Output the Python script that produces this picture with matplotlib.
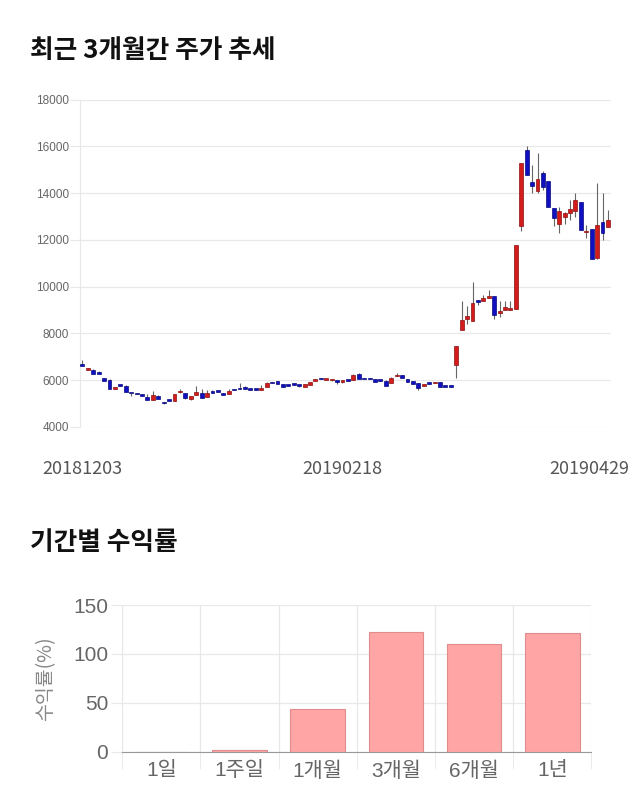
""" 주가 추세 + 기간별 수익률 """
import numpy as np
import matplotlib
matplotlib.use('Agg')
import matplotlib.pyplot as plt
from matplotlib.ticker import MultipleLocator, FixedLocator
import matplotlib.transforms as mtransforms

plt.rcParams['font.family'] = ['Noto Sans CJK KR', 'DejaVu Sans']
arial_like = ['Liberation Sans', 'Noto Sans CJK KR']

# 일봉 데이터 (2018-12-03 ~ 2019-04-29)
opens = [6660, 6440, 6440, 6350, 6100, 6010, 5630, 5780, 5750, 5450,
         5420, 5400, 5280, 5150, 5330, 5040, 5140, 5120, 5480, 5460,
         5200, 5370, 5460, 5280, 5490, 5510, 5440, 5410, 5590, 5630,
         5710, 5620, 5590, 5590, 5710, 5890, 5970, 5840, 5770, 5810,
         5770, 5710, 5800, 5970, 6060, 6000, 5990, 5950, 5900, 5980,
         6010, 6270, 6060, 6060, 6050, 5980, 5980, 5870, 6170, 6200,
         6050, 5950, 5880, 5760, 5850, 5870, 5900, 5740, 5770, 6650,
         8150, 8610, 8550, 9400, 9400, 9510, 9600, 8880, 9000, 9000,
         9050, 12600, 15860, 14460, 14070, 14880, 14500, 13360, 12690, 13000,
         13130, 13250, 13620, 12320, 12460, 11220, 12750, 12550]
highs = [6870, 6520, 6460, 6370, 6110, 6030, 5720, 5790, 5770, 5460,
         5430, 5420, 5400, 5520, 5350, 5060, 5150, 5420, 5600, 5470,
         5340, 5750, 5600, 5560, 5560, 5520, 5450, 5620, 5600, 5870,
         5760, 5630, 5600, 5790, 5900, 5900, 5980, 5850, 5780, 5820,
         5780, 5850, 5910, 6060, 6070, 6030, 6030, 5960, 6020, 5990,
         6280, 6290, 6070, 6100, 6060, 5990, 5990, 6120, 6300, 6210,
         6060, 5960, 5890, 5850, 5900, 5900, 5910, 5750, 5780, 7450,
         9400, 9150, 10180, 9410, 9650, 9860, 9610, 9400, 9400, 9400,
         11800, 15300, 16000, 15200, 15700, 14950, 14510, 13370, 13400, 13180,
         13710, 13990, 13630, 12640, 12470, 14430, 13990, 13270]
lows = [6600, 6430, 6250, 6260, 5960, 5620, 5620, 5750, 5490, 5300,
        5390, 5320, 5140, 5140, 5190, 4970, 5110, 5110, 5470, 5200,
        5150, 5360, 5230, 5270, 5460, 5480, 5360, 5400, 5560, 5600,
        5620, 5570, 5570, 5580, 5700, 5860, 5830, 5700, 5740, 5780,
        5700, 5700, 5790, 5960, 6030, 5990, 5980, 5850, 5890, 5950,
        6000, 6040, 6030, 6030, 5930, 5950, 5740, 5860, 6160, 6100,
        5930, 5830, 5560, 5750, 5820, 5860, 5700, 5710, 5700, 6100,
        8140, 8400, 8540, 9200, 9390, 9500, 8600, 8700, 8990, 8990,
        9040, 12360, 14780, 14000, 14000, 14150, 13390, 12600, 12300, 12700,
        12850, 13000, 12420, 12070, 11170, 11170, 11990, 12540]
closes = [6620, 6500, 6270, 6270, 5970, 5630, 5710, 5760, 5500, 5430,
          5400, 5330, 5150, 5370, 5200, 5000, 5120, 5400, 5510, 5240,
          5330, 5500, 5240, 5450, 5470, 5490, 5370, 5530, 5570, 5610,
          5630, 5580, 5580, 5680, 5880, 5870, 5840, 5710, 5750, 5790,
          5750, 5840, 5900, 6050, 6040, 6020, 6020, 5930, 6010, 5960,
          6200, 6050, 6040, 6040, 5940, 5960, 5750, 6110, 6190, 6110,
          5940, 5840, 5680, 5840, 5830, 5890, 5710, 5720, 5710, 7440,
          8580, 8750, 9320, 9350, 9530, 9600, 8790, 8970, 9110, 9100,
          11790, 15290, 14790, 14290, 14600, 14260, 13400, 12930, 13220, 13170,
          13340, 13720, 12430, 12390, 11180, 12650, 12290, 12850]
date_ticks = [0, 48, 97]
date_labels = ['20181203', '20190218', '20190429']

# 기간별 수익률
periods = ['1일', '1주일', '1개월', '3개월', '6개월', '1년']
returns = [0.0, 2.0, 44.0, 122.3, 110.3, 121.8]

fig = plt.figure(figsize=(6.4, 8.1), dpi=100)

# ---- 캔들 차트 ----
ax = fig.add_axes([0.125, 0.473, 0.830, 0.404])
x = np.arange(len(opens))
o = np.array(opens)
c = np.array(closes)
up = c >= o
colors = np.where(up, '#d41c1c', '#1010c0')
edges = np.where(up, '#8a1010', '#0a0a80')
ax.vlines(x, lows, highs, color='#666666', linewidth=0.8, zorder=2)
bottom = np.minimum(o, c)
height = np.maximum(np.abs(c - o), 70)
ax.bar(x, height, bottom=bottom, width=0.72, color=colors, edgecolor=edges,
       linewidth=0.5, zorder=3)

ax.set_ylim(4000, 18000)
ax.set_xlim(-0.45, 97.6)
ax.yaxis.set_major_locator(MultipleLocator(2000))
ax.grid(axis='y', color='#e8e8e8', linewidth=0.9, zorder=0)
ax.tick_params(axis='y', labelsize=8.5, labelcolor='#666666', color='#e8e8e8',
               length=7, pad=1)
for lab in ax.get_yticklabels():
    lab.set_family(arial_like)
for s in ['top', 'right', 'bottom']:
    ax.spines[s].set_visible(False)
ax.spines['left'].set_color('#e8e8e8')
ax.set_xticks(date_ticks)
ax.set_xticklabels(date_labels)
ax.tick_params(axis='x', length=0, labelsize=13, labelcolor='#555555', pad=24)
last = ax.get_xticklabels()[-1]
last.set_transform(last.get_transform() +
                   mtransforms.ScaledTranslation(-0.19, 0, fig.dpi_scale_trans))

fig.text(0.047, 1 - 51 / 810, '최근 3개월간 주가 추세', fontsize=18.5,
         fontweight='bold', va='center', ha='left', color='#111111')

# ---- 수익률 막대 ----
bx = fig.add_axes([0.191, 0.072, 0.733, 0.181])
bx.bar(range(len(periods)), returns, width=0.7, color='#ffa5a5',
       edgecolor='#e08c8c', linewidth=0.8, zorder=3)
bx.set_xlim(-0.5, len(periods) - 0.5)
bx.set_ylim(0, 150)
bx.yaxis.set_major_locator(MultipleLocator(50))
bx.set_xticks(range(len(periods)))
bx.set_xticklabels(periods)
bx.xaxis.set_minor_locator(FixedLocator(np.arange(-0.5, len(periods), 1.0)))
bx.grid(axis='y', color='#e8e8e8', linewidth=0.9, zorder=0)
bx.grid(axis='x', which='minor', color='#e8e8e8', linewidth=0.9, zorder=0)
bx.tick_params(axis='x', which='major', length=0, labelsize=15,
               labelcolor='#666666', pad=7)
bx.tick_params(axis='x', which='minor', length=12, color='#e8e8e8')
bx.tick_params(axis='y', labelsize=15, labelcolor='#666666', color='#e8e8e8',
               length=8, pad=2)
for lab in bx.get_xticklabels() + bx.get_yticklabels():
    lab.set_family(arial_like)
for s in ['top', 'right']:
    bx.spines[s].set_visible(False)
bx.spines['left'].set_color('#e8e8e8')
bx.spines['bottom'].set_color('#999999')
bx.set_ylabel('수익률(%)', fontsize=14, color='#888888', labelpad=12)

fig.text(0.047, 1 - 543 / 810, '기간별 수익률', fontsize=18.5,
         fontweight='bold', va='center', ha='left', color='#111111')

fig.savefig('out.png', dpi=100)
